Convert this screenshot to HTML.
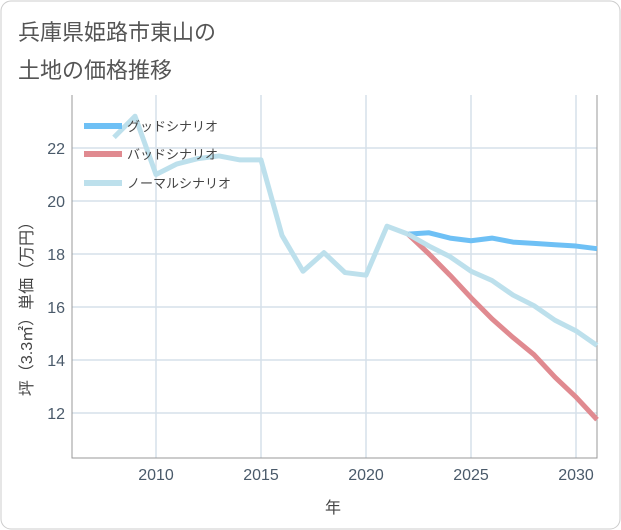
<!DOCTYPE html>
<html><head><meta charset="utf-8"><style>
body{margin:0;background:#fff;font-family:"Liberation Sans","Noto Sans CJK JP",sans-serif}
#wrap{position:relative;width:621px;height:530px;overflow:hidden}
svg text{font-family:"Liberation Sans","Noto Sans CJK JP",sans-serif}
</style></head><body>
<div id="wrap">
<svg id="chart" width="621" height="530">
<rect x="1" y="1" width="619" height="528" rx="10" fill="#fff" stroke="#ccc"/>
<text x="18" y="40" font-size="22" fill="#555">兵庫県姫路市東山の</text>
<text x="18" y="78" font-size="22" fill="#555">土地の価格推移</text>
<g id="grid"></g><g id="series"></g>
<g id="legend">
<line x1="84" y1="126" x2="122" y2="126" stroke="#6ec0f5" stroke-width="6"/>
<text x="127" y="131" font-size="13" fill="#444">グッドシナリオ</text>
<line x1="84" y1="154" x2="122" y2="154" stroke="#e08a90" stroke-width="6"/>
<text x="127" y="159" font-size="13" fill="#444">バッドシナリオ</text>
<line x1="84" y1="183" x2="122" y2="183" stroke="#bde0ec" stroke-width="6"/>
<text x="127" y="188" font-size="13" fill="#444">ノーマルシナリオ</text>
</g>
<text x="333" y="513" font-size="16" fill="#444" text-anchor="middle">年</text>
<text transform="translate(32,305) rotate(-90)" font-size="16" fill="#444" text-anchor="middle">坪（3.3㎡）単価（万円）</text>
</svg></div>
<script>
const years=[2008,2009,2010,2011,2012,2013,2014,2015,2016,2017,2018,2019,2020,2021,2022];
const normalHist=[22.4,23.2,21.0,21.4,21.6,21.7,21.55,21.55,18.7,17.35,18.05,17.3,17.2,19.05,18.75];
const futureYears=[2022,2023,2024,2025,2026,2027,2028,2029,2030,2031];
const good=[18.75,18.8,18.6,18.5,18.6,18.45,18.4,18.35,18.3,18.2];
const bad=[18.75,18.0,17.2,16.35,15.55,14.85,14.2,13.35,12.6,11.75];
const normal=[18.75,18.3,17.9,17.35,17.0,16.45,16.05,15.5,15.1,14.55];
const xTicks=[2010,2015,2020,2025,2030];
const yTicks=[12,14,16,18,20,22];
const X0=72,X1=597,Y0=95,Y1=458;
const xs=y=>X0+(y-2006)*(X1-X0)/25;
const ys=v=>413-(v-12)*26.5;
const NS="http://www.w3.org/2000/svg";
const grid=document.getElementById('grid'),ser=document.getElementById('series');
function mk(tag,at,parent){const e=document.createElementNS(NS,tag);for(const k in at)e.setAttribute(k,at[k]);parent.appendChild(e);return e;}
xTicks.forEach(t=>{
 const l=mk('line',{x1:xs(t),x2:xs(t),y1:Y0,y2:Y1,stroke:'#d5e0ea','stroke-width':1.5},grid);
 
 
 const tx=mk('text',{x:xs(t),y:480,'font-size':16,fill:'#4a5a6a','text-anchor':'middle'},grid);tx.textContent=t;
 
 
});
yTicks.forEach(t=>{
 const l=mk('line',{x1:X0,x2:X1,y1:ys(t),y2:ys(t),stroke:'#d5e0ea','stroke-width':1.5},grid);
 
 
 const tx=mk('text',{x:65,y:ys(t)+6,'font-size':16,fill:'#4a5a6a','text-anchor':'end'},grid);tx.textContent=t;
 
 
});
const ax=mk('path',{d:`M${X0} ${Y0}V${Y1}H${X1}V${Y0}`,fill:'none',stroke:'#999','stroke-width':1},grid);


function line(xv,yv,color,name){
 const d=xv.map((x,i)=>(i?'L':'M')+xs(x)+' '+ys(yv[i])).join('');
 const p=mk('path',{d,fill:'none',stroke:color,'stroke-width':5,'stroke-linejoin':'round'},ser);
 
 
}
line(futureYears,good,'#6ec0f5','good-scenario-line');
line(futureYears,bad,'#e08a90','bad-scenario-line');
line(futureYears,normal,'#bde0ec','normal-scenario-line');
line(years,normalHist,'#bde0ec','historical-price-line');
document.getElementById('chart').appendChild(document.getElementById('legend'));
</script>
</body></html>
